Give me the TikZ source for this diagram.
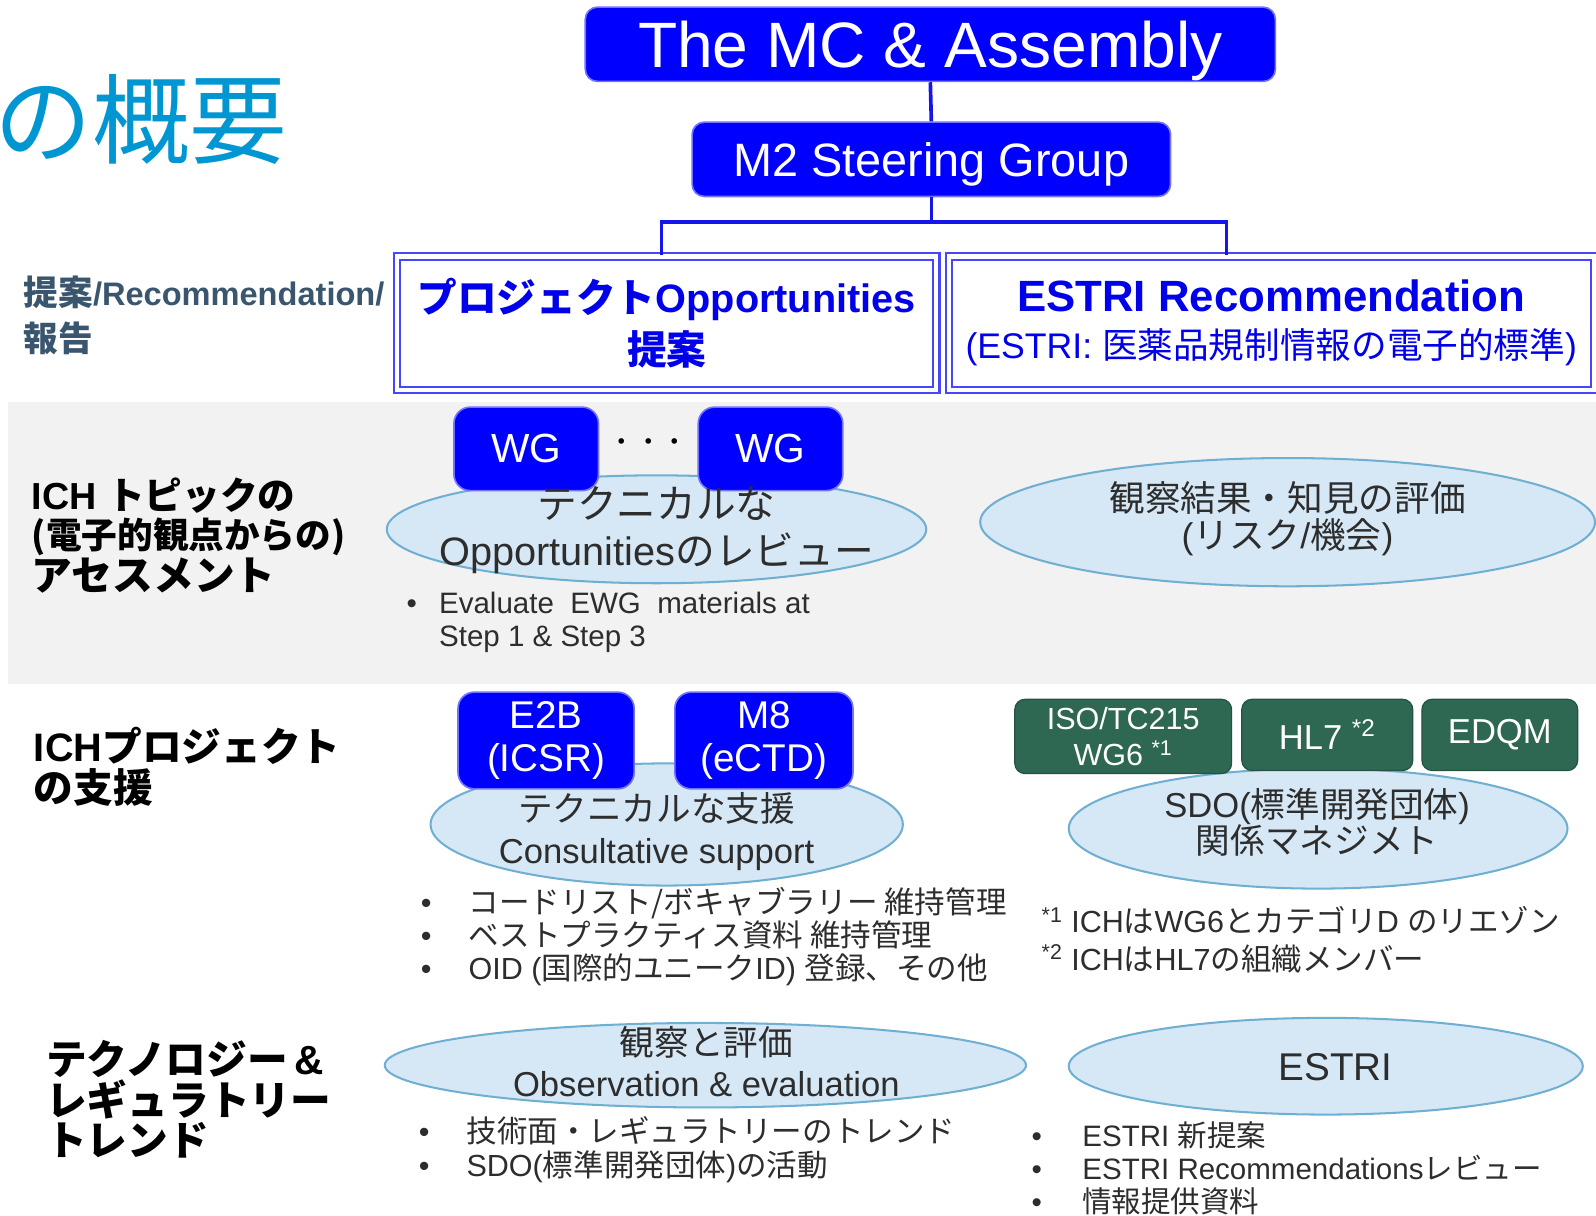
\documentclass[tikz,border=0pt]{standalone}
\usepackage{fontspec}
\setmainfont{Liberation Sans}
\newfontfamily\jpfont{Noto Sans CJK JP}
\usetikzlibrary{shapes.geometric}
\definecolor{pureblue}{RGB}{0,0,255}
\definecolor{boxline}{RGB}{70,70,250}
\definecolor{connblue}{RGB}{20,20,235}
\definecolor{bandgray}{RGB}{242,242,242}
\definecolor{ellfill}{RGB}{214,232,245}
\definecolor{elldraw}{RGB}{110,175,210}
\definecolor{sdogreen}{RGB}{46,104,82}
\definecolor{titlecyan}{RGB}{0,150,210}
\definecolor{labelgray}{RGB}{58,86,110}
\definecolor{txtgray}{RGB}{45,45,45}
\definecolor{hdrblue}{RGB}{0,0,235}
\newcommand\jj[1]{{\jpfont #1}}
\newcommand\fs[2]{\fontsize{#1}{#2}\selectfont}
\newcommand\bl[1]{\makebox[#1][l]{\textbullet}}
\begin{document}
\begin{tikzpicture}[x=0.5pt,y=-0.5pt,
  bluebox/.style={rectangle, rounded corners=6pt, fill=pureblue, draw=blue!55!white, line width=0.8pt, text=white, inner sep=0pt, align=center},
  greenbox/.style={rectangle, rounded corners=5pt, fill=sdogreen, draw=sdogreen!80!black, line width=0.6pt, text=white, inner sep=0pt, align=center},
  dbox/.style={rectangle, draw=boxline, double=white, double distance=2pt, line width=1pt, inner sep=0pt, align=center, text=hdrblue},
  ell/.style={ellipse, fill=ellfill, draw=elldraw, line width=1pt, inner sep=0pt},
  etext/.style={text=txtgray, align=center, inner sep=0pt},
  lbl/.style={anchor=west, align=left, inner sep=0pt, text=black},
  blist/.style={anchor=west, align=left, inner sep=0pt, text=txtgray},
  conn/.style={draw=connblue, line width=1.8pt}
]
\useasboundingbox (0,0) rectangle (1568,1194);
\clip (0,0) rectangle (1568,1194);

% page title
\node[text=titlecyan, font=\jpfont\fs{48}{48}, anchor=east, inner sep=0pt] (pagetitle) at (283,117) {の概要};

% top hierarchy
\node[bluebox, minimum width=339pt, minimum height=36.5pt, text depth=0pt, font=\fs{31.5}{31.5}] (mc) at (914,43.5) {The MC \& Assembly};
\node[bluebox, minimum width=235pt, minimum height=36.5pt, text depth=0pt, font=\fs{23}{23}] (m2) at (915,156.5) {M2 Steering Group};

\node[dbox, minimum width=265pt, minimum height=65.5pt, font=\bfseries\fs{19.5}{26}] (lbox) at (655,317.5) {\jj{プロジェクト}Opportunities\\\jj{提案}};
\node[dbox, minimum width=317pt, minimum height=65.5pt, font=\fs{17.5}{23}] (rbox) at (1249,317.5) {{\bfseries\fs{21.5}{23}ESTRI Recommendation}\\(ESTRI: \jj{医薬品規制情報の電子的標準})};

\coordinate (jL) at (650,218);
\coordinate (jR) at (1205,218);
\draw[conn] (mc.south) -- (m2.north);
\draw[conn] (m2.south) -- (m2.south |- jL);
\draw[conn] (jL |- lbox.north) -- (jL) -- (jR) -- (jR |- rbox.north);

\node[lbl, text=labelgray, font=\bfseries\fs{17}{22.5}] (reclbl) at (23,310) {\jj{提案}{\fs{16}{22.5}/Recommendation/}\\\jj{報告}};

% band 1
\fill[bandgray] (8,395) rectangle (1568,672);

\node[lbl, font=\bfseries\fs{18.5}{19.5}] (sec1) at (31,526) {ICH \jj{トピックの}\\{\fs{17.5}{19.5}\jj{(電子的観点からの)}}\\{\fs{20}{19.5}\jj{アセスメント}}};

\node[ell, minimum width=265pt, minimum height=53pt] (e1) at (645,520) {};
\node[bluebox, rounded corners=8pt, minimum width=71pt, minimum height=41pt, font=\fs{20}{20}] (wg1) at (517,441) {WG};
\node[bluebox, rounded corners=8pt, minimum width=71pt, minimum height=41pt, font=\fs{20}{20}] (wg2) at (757,441) {WG};
\node[font=\jpfont\fs{13}{13}, inner sep=0pt] (dots) at (637,437) {・・・};
\node[etext, font=\fs{19.5}{23}] (e1t) at (645,521) {\jj{テクニカルな}\\Opportunities\jj{のレビュー}};

\node[blist, font=\fs{14.5}{16.5}] (b1) at (399,611.5) {\bl{16pt}Evaluate\ \ EWG\ \ materials at\\\hspace*{16pt}Step 1 \& Step 3};

\node[ell, minimum width=302pt, minimum height=63pt] (e2) at (1265,513) {};
\node[etext, font=\fs{17.5}{18.5}] (e2t) at (1265,509.5) {\jj{観察結果・知見の評価}\\(\jj{リスク}/\jj{機会})};

% section 2
\node[lbl, font=\bfseries\fs{19.5}{20}] (sec2) at (33,753) {ICH\jj{プロジェクト}\\\jj{の支援}};

\node[ell, minimum width=232pt, minimum height=60pt] (e3) at (655,810) {};
\node[bluebox, rounded corners=8pt, minimum width=86.5pt, minimum height=47.5pt, font=\fs{19}{21}] (e2b) at (536.5,727.5) {E2B\\(ICSR)};
\node[bluebox, rounded corners=8pt, minimum width=87.5pt, minimum height=47.5pt, font=\fs{19}{21}] (m8) at (750.5,727.5) {M8\\(eCTD)};
\node[etext, font=\fs{17}{20.5}] (e3t) at (645,817) {\jj{テクニカルな支援}\\Consultative support};

\node[blist, font=\fs{15}{16.25}] (b2) at (413,920.5) {\bl{23.5pt}\jj{コードリスト/ボキャブラリー 維持管理}\\\bl{23.5pt}\jj{ベストプラクティス資料 維持管理}\\\bl{23.5pt}OID (\jj{国際的ユニーク}ID) \jj{登録、その他}};

\node[ell, minimum width=245pt, minimum height=59pt] (e4) at (1295,814) {};
\node[greenbox, minimum width=106.5pt, minimum height=36.5pt, font=\fs{15}{18}] (iso) at (1103.5,723.5) {ISO/TC215\\WG6 \textsuperscript{*1}};
\node[greenbox, minimum width=84pt, minimum height=35pt, font=\fs{17}{17}] (hl7) at (1304,722) {HL7 \textsuperscript{*2}};
\node[greenbox, minimum width=76.5pt, minimum height=35pt, font=\fs{17}{17}] (edqm) at (1473.5,722) {EDQM};
\node[etext, font=\fs{17}{18}] (e4t) at (1294,808) {SDO(\jj{標準開発団体})\\\jj{関係マネジメト}};

\node[blist, font=\fs{15}{18.5}] (fn) at (1023,923.5) {\textsuperscript{*1} ICH\jj{は}WG6\jj{とカテゴリ}D \jj{のリエゾン}\\\textsuperscript{*2} ICH\jj{は}HL7\jj{の組織メンバー}};

% section 3
\node[lbl, font=\bfseries\fs{20}{20}] (sec3) at (45,1080) {\jj{テクノロジー}\,\&\\\jj{レギュラトリー}\\\jj{トレンド}};

\node[ell, minimum width=315pt, minimum height=41.5pt] (e5) at (693,1046.5) {};
\node[etext, font=\fs{17}{20}] (e5t) at (694,1043) {\jj{観察と評価}\\Observation \& evaluation};
\node[blist, font=\fs{15}{16.5}] (b3) at (411,1129.5) {\bl{23.5pt}\jj{技術面・レギュラトリーのトレンド}\\\bl{23.5pt}SDO(\jj{標準開発団体})\jj{の活動}};

\node[ell, minimum width=252.5pt, minimum height=47.5pt] (e6) at (1302.5,1047.5) {};
\node[etext, font=\fs{19}{19}] (e6t) at (1312,1048) {ESTRI};
\node[blist, font=\fs{14.5}{16.25}] (b4) at (1013,1148) {\bl{25pt}ESTRI \jj{新提案}\\\bl{25pt}ESTRI Recommendations\jj{レビュー}\\\bl{25pt}\jj{情報提供資料}};
\end{tikzpicture}
\end{document}
